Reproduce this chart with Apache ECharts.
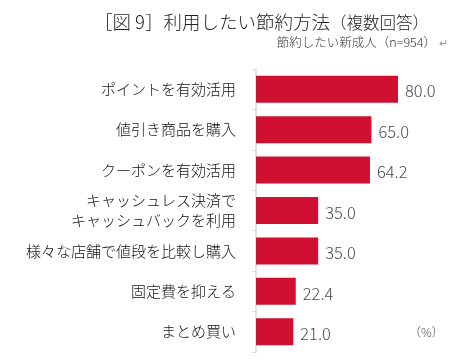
<!DOCTYPE html>
<html><head><meta charset="utf-8">
<script src="https://cdn.jsdelivr.net/npm/echarts@6/dist/echarts.min.js"></script>
<style>html,body{margin:0;padding:0;background:#fff}#c{width:451px;height:360px}</style>
</head><body><div id="c"></div>
<script>
const categories = ['ポイントを有効活用','値引き商品を購入','クーポンを有効活用','キャッシュレス決済で\nキャッシュバックを利用','様々な店舗で値段を比較し購入','固定費を抑える','まとめ買い'];
const values = [80.0, 65.0, 64.2, 35.0, 35.0, 22.4, 21.0];
const titleMain = '［図 9］利用したい節約方法';
const titleSub = '（複数回答）';
const subtitle = '節約したい新成人（n=954）';
const unitLabel = '（%）';

const FONT = '"Noto Sans CJK JP", sans-serif';
const W = 300;
const chart = echarts.init(document.getElementById('c'));
chart.setOption({
  animation: false,
  textStyle: {fontFamily: FONT, fontWeight: W},
  graphic: [
    {type:'text', left: 94, top: 13, style:{
      rich:{a:{fontSize:18.5,fill:'#222',fontFamily:FONT,fontWeight:W},b:{fontSize:16.5,fill:'#222',fontFamily:FONT,fontWeight:W}},
      text: '{a|' + titleMain + '}{b|' + titleSub + '}'}},
    {type:'text', right: 15, top: 36, style:{text: subtitle, fontSize:12.5, fill:'#333', fontFamily:FONT, fontWeight:W}},
    {type:'text', right: 3, top: 37, style:{text: '↵', fontSize:11, fill:'#999', fontFamily:FONT}},
    {type:'text', left: 409, top: 326, style:{text: unitLabel, fontSize:12, fill:'#444', fontFamily:FONT, fontWeight:W}}
  ],
  grid: {left: 256, top: 69, width: 177.5, height: 283},
  xAxis: {type:'value', min:0, max:100, show:false},
  yAxis: {type:'category', inverse:true, data: categories,
    axisLine:{show:true, lineStyle:{color:'#D9D9D9', width:1.5}},
    axisTick:{show:true, length:4, lineStyle:{color:'#D9D9D9'}},
    axisLabel:{fontSize:15, color:'#111', margin:20, lineHeight:20, fontFamily:FONT, fontWeight:W}
  },
  series: [{type:'bar', data: values, barWidth: 27,
    itemStyle:{color:'#D01030'},
    label:{show:true, position:'right', distance:7, fontSize:16.5, color:'#4a4a4a', fontFamily:FONT, fontWeight:W,
      formatter: p => p.value.toFixed(1), offset:[0,2]}
  }]
});
</script></body></html>
